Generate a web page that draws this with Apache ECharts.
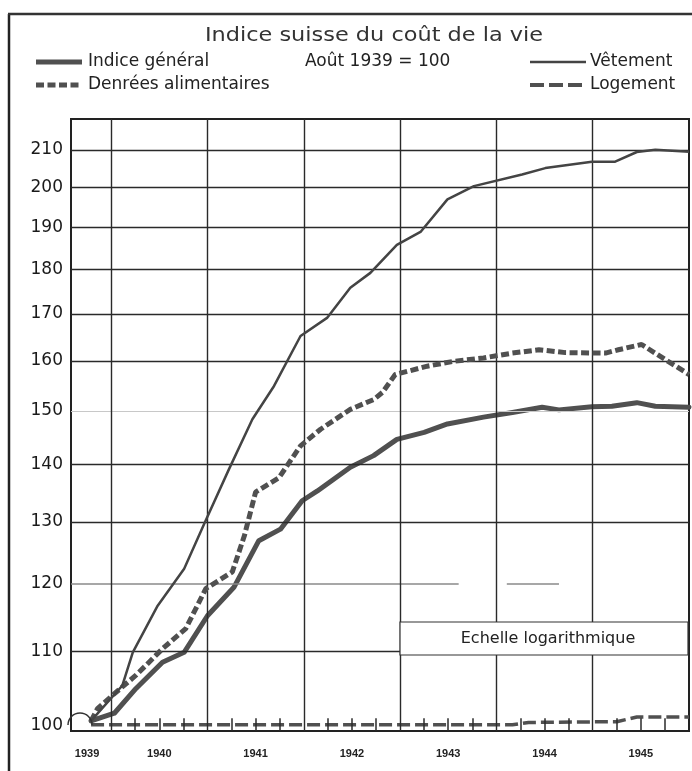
<!DOCTYPE html>
<html>
<head>
<meta charset="utf-8">
<script src="https://cdn.jsdelivr.net/npm/echarts@6.0.0/dist/echarts.min.js"></script>
<style>
html,body{margin:0;padding:0;background:#fff;}
#chart{width:692px;height:771px;}
</style>
</head>
<body>
<div id="chart"></div>
<script>
// x values are months counted from January 1939 (month 12 = January 1940)
const titleText = 'Indice suisse du coût de la vie';
const baseText = 'Août 1939 = 100';
const seriesNames = ['Indice général', 'Vêtement', 'Denrées alimentaires', 'Logement'];
const yTicks = [100, 110, 120, 130, 140, 150, 160, 170, 180, 190, 200, 210];
const yearBoundaries = [12, 24, 36, 48, 60, 72];
const yearLabelPos = [9, 18, 30, 42, 54, 66, 78];
const yearLabels = ['1939', '1940', '1941', '1942', '1943', '1944', '1945'];
const quarterTicks = [15, 18, 21, 27, 30, 33, 39, 42, 45, 51, 54, 57, 63, 66, 69, 75, 78, 81];

const indiceGeneral = [[9.5,100.6],[12.4,101.6],[15.1,104.9],[18.4,108.5],[21.1,109.9],[24.0,115.2],[27.3,119.5],[30.4,126.9],[33.1,128.8],[35.8,133.6],[37.7,135.3],[41.8,139.5],[44.7,141.6],[47.6,144.6],[51.0,145.9],[53.9,147.5],[58.4,148.8],[62.0,149.7],[65.7,150.7],[67.8,150.2],[71.9,150.8],[74.4,150.9],[77.5,151.6],[79.8,150.9],[84,150.7]];
const vetement = [[9.5,100.6],[13.4,105.3],[14.7,109.9],[17.8,116.7],[21.1,122.4],[23.6,129.7],[26.7,139.2],[29.6,148.4],[32.3,154.9],[35.6,165.2],[38.9,169.1],[41.8,175.8],[44.3,179.2],[47.6,185.8],[50.6,189.0],[53.9,197.0],[57.2,200.4],[63.2,203.4],[66.1,205.1],[71.9,206.8],[74.8,206.8],[77.5,209.4],[79.8,210.0],[84,209.5]];
const denrees = [[9.5,100.6],[10.3,102.2],[12.2,104.0],[15.1,106.7],[18.4,110.4],[21.3,113.3],[23.8,119.3],[27.1,121.9],[28.6,127.7],[30.0,135.1],[32.9,137.6],[35.6,143.4],[38.1,146.5],[41.8,150.3],[44.7,152.2],[45.8,153.6],[47.4,157.2],[51.4,158.9],[54.7,159.9],[58.4,160.6],[62.0,161.6],[65.3,162.3],[68.6,161.7],[73.6,161.6],[75.2,162.3],[78.1,163.4],[81.0,160.3],[84,157.2]];
const logement = [[9.5,100.1],[24,100.1],[36,100.1],[48,100.1],[62,100.1],[64,100.4],[75,100.5],[77.5,101.1],[84,101.1]];

const boxText = 'Echelle logarithmique';

const INK = '#2a2a2a';
const LINE = '#505050';
const FONT = '"Liberation Sans", Arial, sans-serif';
const WFONT = '"DejaVu Sans", "Liberation Sans", sans-serif';

const Y_MIN = 99.3, Y_MAX = 218.5, TICK_TOP = 100.95;

const chart = echarts.init(document.getElementById('chart'), null, {renderer: 'canvas'});

const hLines = yTicks.filter(v => v !== 120).map(v => {
  const item = {yAxis: v, name: String(v), lineStyle: {color: INK, width: 1.4, type: 'solid'}};
  if (v === 100) item.lineStyle = {color: 'rgba(0,0,0,0)', width: 1};
  if (v === 150) item.lineStyle = {color: '#c8c8c8', width: 1.2, type: 'solid'};
  return item;
});
hLines.push([{coord: [7, 120], name: '120', lineStyle: {color: '#8a8a8a', width: 1.6, type: 'solid'}}, {coord: [55.3, 120]}]);
hLines.push([{coord: [61.3, 120], name: '', label: {show: false}, lineStyle: {color: '#8a8a8a', width: 1.6, type: 'solid'}}, {coord: [67.8, 120]}]);

const vLines = yearBoundaries.map(m => ({xAxis: m, label: {show: false}, lineStyle: {color: INK, width: 1.4, type: 'solid'}}));

const tickLines = quarterTicks.map(m => [
  {coord: [m, Y_MIN], label: {show: false}, lineStyle: {color: INK, width: 1.5, type: 'solid'}},
  {coord: [m, TICK_TOP]}
]);

const option = {
  animation: false,
  backgroundColor: '#fff',
  grid: {left: 71, right: 3, top: 119, bottom: 40, show: true, borderColor: '#222', borderWidth: 2, backgroundColor: 'transparent'},
  xAxis: {
    type: 'value', min: 7, max: 84,
    axisLine: {show: false},
    splitLine: {show: false},
    axisTick: {show: false},
    axisLabel: {
      show: true, customValues: yearLabelPos, margin: 17,
      fontFamily: FONT, fontSize: 11, fontWeight: 'bold', color: '#222',
      formatter: v => yearLabels[yearLabelPos.indexOf(v)] || ''
    }
  },
  yAxis: {
    type: 'log', logBase: 10, min: Y_MIN, max: Y_MAX,
    axisLine: {show: false}, axisTick: {show: false}, axisLabel: {show: false}, splitLine: {show: false}
  },
  series: [
    {
      name: 'grid', type: 'line', data: [], silent: true,
      markLine: {
        silent: true, symbol: ['none', 'none'], animation: false,
        label: {show: true, position: 'start', distance: 8, formatter: '{b}', fontFamily: WFONT, fontSize: 17, color: '#1a1a1a'},
        data: hLines.concat(vLines).concat(tickLines)
      },
      z: 1
    },
    {
      name: seriesNames[3], type: 'line', data: logement, showSymbol: false, symbol: 'none', z: 3,
      lineStyle: {color: LINE, width: 3.5, type: [13, 5]}
    },
    {
      name: seriesNames[0], type: 'line', data: indiceGeneral, showSymbol: false, symbol: 'none', z: 4,
      lineStyle: {color: LINE, width: 5, join: 'round', cap: 'round'}
    },
    {
      name: seriesNames[2], type: 'line', data: denrees, showSymbol: false, symbol: 'none', z: 5,
      lineStyle: {color: LINE, width: 5, type: [8, 3.5]}
    },
    {
      name: seriesNames[1], type: 'line', data: vetement, showSymbol: false, symbol: 'none', z: 6,
      lineStyle: {color: '#444', width: 2.5, join: 'round'}
    }
  ],
  graphic: [
    // outer frame
    {type: 'line', shape: {x1: 9, y1: 14, x2: 9, y2: 771}, style: {stroke: '#222', lineWidth: 2.5}, z: 50},
    {type: 'line', shape: {x1: 8, y1: 14, x2: 692, y2: 14}, style: {stroke: '#333', lineWidth: 2.5}, z: 50},
    // title
    {type: 'text', x: 374, y: 36, scaleX: 1.18, originX: 0, originY: 0, z: 50, style: {text: titleText, fontFamily: WFONT, fontSize: 19, fill: '#333', align: 'center', verticalAlign: 'middle'}},
    // legend row 1
    {type: 'line', shape: {x1: 36, y1: 62, x2: 82, y2: 62}, style: {stroke: LINE, lineWidth: 5}, z: 50},
    {type: 'text', x: 88, y: 62, z: 50, style: {text: seriesNames[0], fontFamily: WFONT, fontSize: 17, fill: '#222', verticalAlign: 'middle'}},
    {type: 'text', x: 305, y: 62, z: 50, style: {text: baseText, fontFamily: WFONT, fontSize: 17, fill: '#222', verticalAlign: 'middle'}},
    {type: 'line', shape: {x1: 530, y1: 62, x2: 586, y2: 62}, style: {stroke: '#444', lineWidth: 2.5}, z: 50},
    {type: 'text', x: 590, y: 62, z: 50, style: {text: seriesNames[1], fontFamily: WFONT, fontSize: 17, fill: '#222', verticalAlign: 'middle'}},
    // legend row 2
    {type: 'line', shape: {x1: 36, y1: 85, x2: 82, y2: 85}, style: {stroke: LINE, lineWidth: 5, lineDash: [8, 3.5]}, z: 50},
    {type: 'text', x: 88, y: 85, z: 50, style: {text: seriesNames[2], fontFamily: WFONT, fontSize: 17, fill: '#222', verticalAlign: 'middle'}},
    {type: 'line', shape: {x1: 530, y1: 85, x2: 586, y2: 85}, style: {stroke: LINE, lineWidth: 4, lineDash: [14, 5]}, z: 50},
    {type: 'text', x: 590, y: 85, z: 50, style: {text: seriesNames[3], fontFamily: WFONT, fontSize: 17, fill: '#222', verticalAlign: 'middle'}},
    // small arc at origin
    {type: 'arc', shape: {cx: 80, cy: 725, r: 12, startAngle: Math.PI, endAngle: 2 * Math.PI}, style: {stroke: '#333', lineWidth: 1.5, fill: null}, z: 50},
    // annotation box
    {type: 'rect', shape: {x: 400, y: 622, width: 288, height: 33}, style: {fill: '#fff', stroke: '#333', lineWidth: 1.2}, z: 60},
    {type: 'text', x: 548, y: 639, z: 61, style: {text: boxText, fontFamily: WFONT, fontSize: 16, fill: '#222', align: 'center', verticalAlign: 'middle'}}
  ]
};
chart.setOption(option);
</script>
</body>
</html>
